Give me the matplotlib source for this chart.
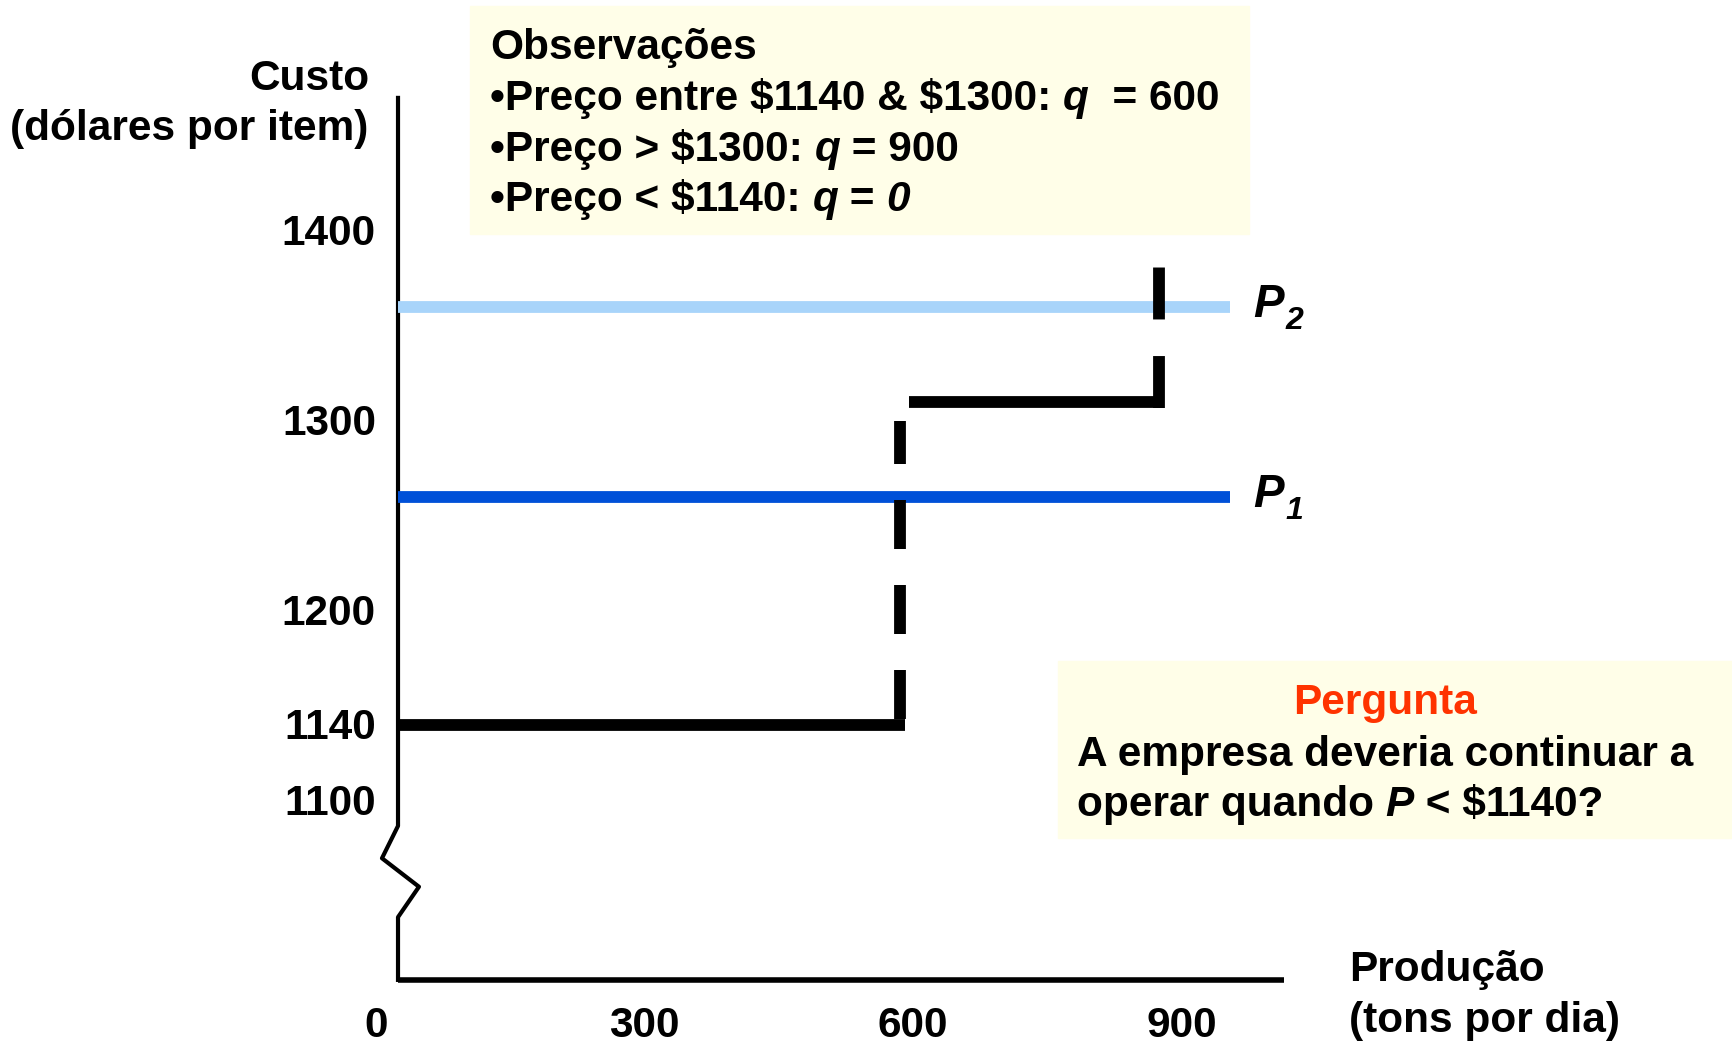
import matplotlib
matplotlib.use('Agg')
import matplotlib.pyplot as plt
from matplotlib.patches import Rectangle

plt.rcParams['font.family'] = ['Liberation Sans', 'DejaVu Sans']
plt.rcParams['font.weight'] = 'bold'

# Dados do gráfico
q_ticks = [0, 300, 600, 900]
c_ticks = [1100, 1140, 1200, 1300, 1400]
p1 = 1260
p2 = 1360
q_low, q_high = 586, 875          # quantidades onde a curva muda
c_low, c_high = 1140, 1310        # níveis da curva de custo
c_top_dash = 1381                 # topo do tracejado em q_high
q_axis = 24.6                     # posição do eixo vertical
q_end_lines = 954                 # fim das linhas de preço
q_end_xaxis = 1015

W, H = 1733, 1043
fig = plt.figure(figsize=(W / 100, H / 100), dpi=100)
ax = fig.add_axes([0, 0, 1, 1])
ax.set_xlim(-420.1, 1516.2)
ax.set_ylim(972.8, 1521.5)
ax.axis('off')
renderer = fig.canvas.get_renderer()

def fx(px):
    return px / W

def fy(py):
    return 1 - py / H

def runs(x, y, parts, **kw):
    # escreve pedaços de texto em sequência (normal / itálico)
    for s, style in parts:
        t = fig.text(fx(x), fy(y), s, style=style, ha='left', va='baseline',
                     parse_math=False, **kw)
        x += t.get_window_extent(renderer).width

fs = 30.5
lw = 8.5

# Caixas de texto
fig.add_artist(Rectangle((fx(470), fy(234)), (1249 - 470) / W, (234 - 6) / H,
                         transform=fig.transFigure, color='#fffee8', zorder=0))
fig.add_artist(Rectangle((fx(1058), fy(838)), (1733 - 1058) / W, (838 - 661) / H,
                         transform=fig.transFigure, color='#fffee8', zorder=0))

# Eixos com quebra
ax.plot([q_axis, q_axis, 6.7, 48, q_axis, q_axis],
        [1470, 1087, 1070, 1055, 1039, 1006], color='black', lw=3, clip_on=False)
ax.plot([q_axis, q_end_xaxis], [1006, 1006], color='black', lw=4, solid_capstyle='butt')

# Linhas de preço
ax.plot([q_axis, q_end_lines], [p2, p2], color='#a8d4fa', lw=lw, solid_capstyle='butt')
ax.plot([q_axis, q_end_lines], [p1, p1], color='#0050d8', lw=lw, solid_capstyle='butt')

# Curva de custo em degraus
ax.plot([q_axis, q_low + 5], [c_low, c_low], color='black', lw=lw, solid_capstyle='butt')
ax.plot([q_low, q_low], [c_low + 3, 1300], color='black', lw=lw,
        dashes=(4.15, 3.05), dash_capstyle='butt')
ax.plot([q_low + 9, q_high + 5], [c_high, c_high], color='black', lw=lw,
        solid_capstyle='butt')
ax.plot([q_high, q_high], [c_high - 3, c_top_dash + 4], color='black', lw=lw,
        dashes=(4.4, 3.1), dash_capstyle='butt')

# Rótulos dos eixos
for q in q_ticks:
    ax.text(q, 984, str(q), fontsize=fs, ha='center', va='center_baseline')
for c in c_ticks:
    ax.text(0, c + 1, str(c), fontsize=fs, ha='right', va='center_baseline')

fig.text(fx(369), fy(90), 'Custo', fontsize=fs, ha='right', va='baseline')
fig.text(fx(368), fy(140), '(dólares por item)', fontsize=fs, ha='right', va='baseline')
fig.text(fx(1349), fy(981), 'Produção', fontsize=fs, ha='left', va='baseline')
fig.text(fx(1349), fy(1032), '(tons por dia)', fontsize=fs, ha='left', va='baseline')

# P1 e P2
for p, sub in [(p2, '2'), (p1, '1')]:
    ax.text(980, p - 5.3, 'P', fontsize=33, style='italic', ha='left', va='baseline')
    ax.text(1016, p - 11.6, sub, fontsize=23, style='italic', ha='left', va='baseline')

# Observações
fig.text(fx(490), fy(59), 'Observações', fontsize=fs, ha='left', va='baseline')
runs(490, 110, [('•Preço entre $1140 & $1300: ', 'normal'), ('q', 'italic'),
                ('  = 600', 'normal')], fontsize=fs)
runs(490, 161, [('•Preço > $1300: ', 'normal'), ('q', 'italic'),
                (' = 900', 'normal')], fontsize=fs)
runs(490, 211, [('•Preço < $1140: ', 'normal'), ('q', 'italic'),
                (' = ', 'normal'), ('0', 'italic')], fontsize=fs)

# Pergunta
fig.text(fx(1385), fy(714), 'Pergunta', fontsize=fs, color='#ff3300',
         ha='center', va='baseline')
fig.text(fx(1077), fy(766), 'A empresa deveria continuar a', fontsize=fs,
         ha='left', va='baseline')
runs(1077, 816, [('operar quando ', 'normal'), ('P', 'italic'),
                 (' < $1140?', 'normal')], fontsize=fs)

fig.savefig('out.png', dpi=100)
